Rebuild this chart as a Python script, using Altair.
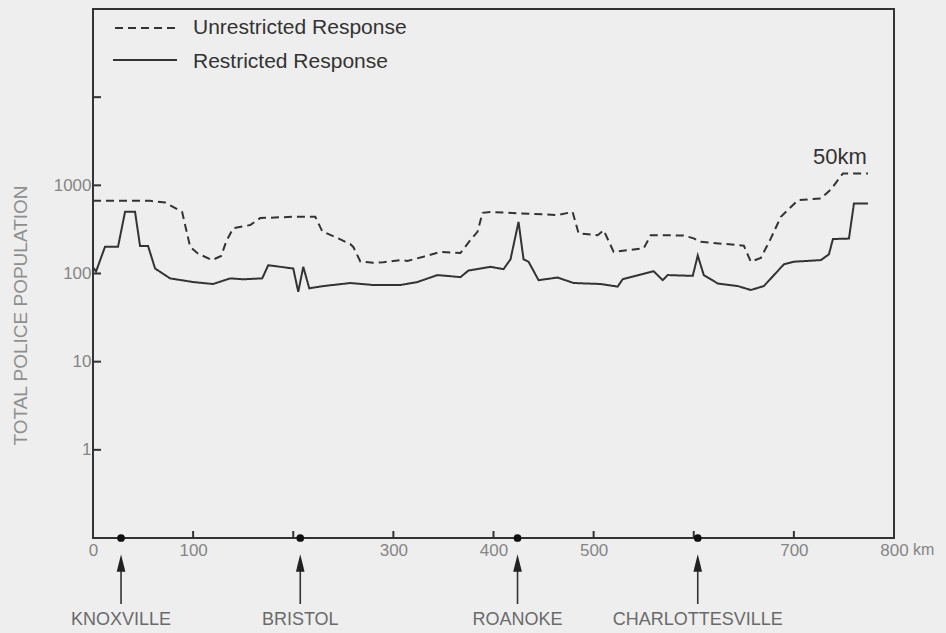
import altair as alt
import pandas as pd

# ---- data ----
unres_km = [0, 57, 72, 89, 97, 105, 119, 128, 133, 140, 157, 167, 200, 222, 229, 245, 257, 260, 267,
            280, 290, 307, 314, 330, 347, 367, 377, 384, 389, 397, 427, 450, 464, 479, 485, 504,
            510, 520, 550, 557, 590, 600, 607, 650, 657, 667, 677, 687, 704, 727, 737, 749, 774]
unres_val = [667, 667, 640, 500, 201, 168, 142, 158, 230, 327, 354, 425, 440, 440, 300, 250, 215, 200, 137,
             132, 134, 142, 139, 155, 176, 171, 240, 297, 488, 500, 480, 470, 459, 500, 285, 272,
             310, 176, 193, 272, 270, 250, 229, 207, 136, 150, 250, 440, 678, 709, 900, 1365, 1365]

res_km = [0, 3, 12, 25, 32, 42, 47, 55, 62, 77, 100, 120, 137, 150, 169, 175, 200, 205, 210, 216,
          230, 257, 280, 307, 324, 344, 367, 375, 397, 410, 417, 425, 430, 435, 445, 464, 480,
          507, 524, 529, 560, 569, 574, 599, 604, 610, 624, 644, 657, 670, 690, 700, 727, 735,
          739, 755, 760, 774]
res_val = [118, 105, 201, 201, 500, 500, 205, 205, 114, 88, 80, 76, 88, 86, 88, 124, 114, 62, 119, 68,
           72, 78, 74, 74, 80, 96, 91, 108, 119, 112, 145, 385, 145, 136, 84, 90, 78,
           76, 71, 86, 106, 84, 96, 94, 160, 96, 77, 72, 65, 72, 127, 136, 142, 165,
           246, 249, 624, 624]

city_names = ["KNOXVILLE", "BRISTOL", "ROANOKE", "CHARLOTTESVILLE"]
city_km = [28, 207, 424, 604]

x_label_values = [0, 100, 300, 400, 500, 700, 800]
x_tick_values = [100, 200, 300, 400, 500, 600, 700]
y_label_values = [1, 10, 100, 1000]
y_tick_values = [1, 10, 100, 1000, 10000]

series_names = ["Unrestricted Response", "Restricted Response"]

# ---- build tables ----
df = pd.DataFrame({
    "km": unres_km + res_km,
    "value": unres_val + res_val,
    "series": [series_names[0]] * len(unres_km) + [series_names[1]] * len(res_km),
})
cities = pd.DataFrame({"name": city_names, "km": city_km})
xt = pd.DataFrame({"km": x_tick_values})
yt = pd.DataFrame({"v": y_tick_values})
one = pd.DataFrame({"a": [0]})

W, H = 801, 529
FONT = "Liberation Sans"
INK = "#333333"
GREY = "#858585"

xs = alt.Scale(domain=[0, 800], nice=False, zero=False)
ys = alt.Scale(type="log", domain=[0.1, 100000], nice=False)

x_axis = alt.Axis(values=x_label_values, ticks=False, tickSize=0, domain=False, grid=False,
                  labelFontSize=17, labelColor=GREY, labelFont=FONT, labelPadding=4,
                  labelFlush=False, labelOverlap=False, labelBound=False, title=None)
y_axis = alt.Axis(values=y_label_values, ticks=False, tickSize=0, domain=False, grid=False,
                  labelFontSize=17, labelColor=GREY, labelFont=FONT, labelPadding=2,
                  labelOverlap=False, format="d",
                  title="TOTAL POLICE POPULATION", titleFont=FONT, titleFontSize=19,
                  titleFontWeight="normal", titleColor="#8f8f8f", titleAngle=270,
                  titleX=-73, titleY=306, titleAlign="center", titleBaseline="middle")

lines = alt.Chart(df).mark_line(color=INK, strokeWidth=2, interpolate="linear").encode(
    x=alt.X("km:Q", scale=xs, axis=x_axis),
    y=alt.Y("value:Q", scale=ys, axis=y_axis),
    strokeDash=alt.StrokeDash("series:N", scale=alt.Scale(domain=series_names, range=[[8, 5], [1, 0]]),
                              legend=None),
    detail="series:N",
)

xticks = alt.Chart(xt).mark_rule(color=INK, strokeWidth=2).encode(
    x=alt.X("km:Q", scale=xs), y=alt.value(H), y2=alt.value(H - 7))
yticks = alt.Chart(yt).mark_rule(color=INK, strokeWidth=2).encode(
    y=alt.Y("v:Q", scale=ys), x=alt.value(0), x2=alt.value(8))

dots = alt.Chart(cities).mark_point(filled=True, color="#111", size=60, opacity=1).encode(
    x=alt.X("km:Q", scale=xs), y=alt.value(H))
shafts = alt.Chart(cities).mark_rule(color=INK, strokeWidth=1.6).encode(
    x=alt.X("km:Q", scale=xs), y=alt.value(H + 30), y2=alt.value(H + 66))
heads = alt.Chart(cities).mark_point(filled=True, color="#222", opacity=1, size=300,
                                     shape="M0,-1L0.5,1L-0.5,1Z").encode(
    x=alt.X("km:Q", scale=xs), y=alt.value(H + 25))
city_text = alt.Chart(cities).mark_text(font=FONT, fontSize=18, color="#6a6a6a",
                                        baseline="middle", align="center").encode(
    x=alt.X("km:Q", scale=xs), y=alt.value(H + 82), text="name:N")

leg_dash = alt.Chart(one).mark_rule(color=INK, strokeWidth=2, strokeDash=[8, 5]).encode(
    x=alt.value(22), x2=alt.value(87), y=alt.value(19))
leg_solid = alt.Chart(one).mark_rule(color=INK, strokeWidth=2).encode(
    x=alt.value(20), x2=alt.value(84), y=alt.value(51))
leg_t1 = alt.Chart(one).mark_text(text=series_names[0], font=FONT, fontSize=21, color=INK,
                                  align="left", baseline="middle").encode(
    x=alt.value(100), y=alt.value(19))
leg_t2 = alt.Chart(one).mark_text(text=series_names[1], font=FONT, fontSize=21, color=INK,
                                  align="left", baseline="middle").encode(
    x=alt.value(100), y=alt.value(53))
label50 = alt.Chart(one).mark_text(text="50km", font=FONT, fontSize=22, color=INK,
                                   align="center", baseline="middle").encode(
    x=alt.value(747), y=alt.value(148))
km_unit = alt.Chart(one).mark_text(text="km", font=FONT, fontSize=16, color=GREY,
                                   align="left", baseline="middle").encode(
    x=alt.value(820), y=alt.value(541))

chart = alt.layer(lines, xticks, yticks, dots, shafts, heads, city_text,
                  leg_dash, leg_solid, leg_t1, leg_t2, label50, km_unit).properties(
    width=W, height=H,
    autosize=alt.AutoSizeParams(type="none"),
    padding={"left": 93, "top": 9, "right": 52, "bottom": 95},
    background="#eeeeee",
).configure_view(stroke="#333333", strokeWidth=2)

chart.save("out.html", embed_options={"renderer": "svg", "actions": False})
